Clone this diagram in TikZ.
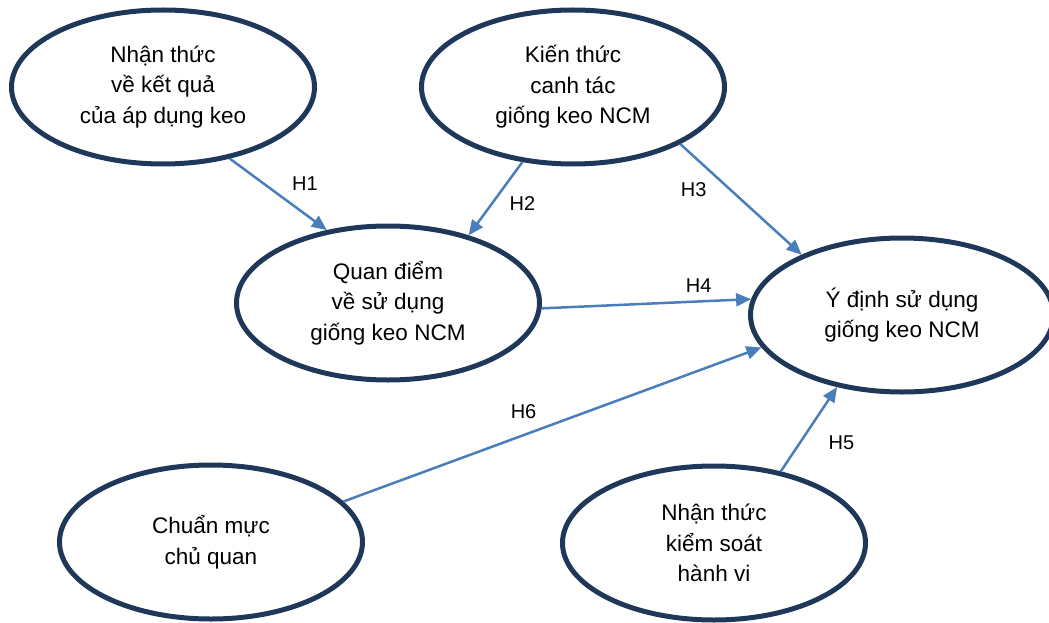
\documentclass[tikz,border=0pt]{standalone}
\usepackage{fontspec}
\setmainfont{Liberation Sans}
\usetikzlibrary{arrows.meta,shapes.geometric}
\definecolor{navy}{HTML}{1F3859}
\definecolor{steel}{HTML}{4A7EBB}

\begin{document}
\begin{tikzpicture}[
 x=1pt,y=-1pt,
 construct/.style={ellipse,draw=navy,line width=5pt,minimum width=303pt,minimum height=154pt,inner sep=0pt,align=center,font=\fontsize{22.5}{30.5}\selectfont},
 arr/.style={-{Triangle[length=15pt,width=13pt]},line width=2.5pt,draw=steel},
 hyp/.style={font=\fontsize{20}{24}\selectfont,inner sep=0pt}
]
\useasboundingbox (0,0) rectangle (1049,623);
\node[construct] (ketqua) at (163,87) {Nhận thức\\về kết quả\\của áp dụng keo};
\node[construct] (kienthuc) at (573,87) {Kiến thức\\canh tác\\giống keo NCM};
\node[construct] (quandiem) at (388,303) {Quan điểm\\về sử dụng\\giống keo NCM};
\node[construct] (ydinh) at (902,315) {Ý định sử dụng\\giống keo NCM};
\node[construct] (chuanmuc) at (211,542) {Chuẩn mực\\chủ quan};
\node[construct] (kiemsoat) at (714,543) {Nhận thức\\kiểm soát\\hành vi};
\draw[arr] (ketqua.-47.5) -- node[hyp,pos=0.63,xshift=14pt,yshift=20pt]{H1} (quandiem.130.2);
\draw[arr] (kienthuc.236.5) -- node[hyp,pos=0.37,xshift=20pt,yshift=-14pt]{H2} (quandiem.40.3);
\draw[arr] (kienthuc.-28.2) -- node[hyp,pos=0.25,xshift=-17pt,yshift=-18pt]{H3} (ydinh.149.4);
\draw[arr] (quandiem.-2.7) -- node[hyp,pos=0.75,yshift=16pt]{H4} (ydinh.174.2);
\draw[arr] (kiemsoat.47.6) -- node[hyp,pos=0.58,xshift=28pt,yshift=-20pt]{H5} (ydinh.228.8);
\draw[arr] (chuanmuc.17.6) -- node[hyp,pos=0.45,xshift=-8pt,yshift=21pt]{H6} (ydinh.193.8);
\end{tikzpicture}
\end{document}
